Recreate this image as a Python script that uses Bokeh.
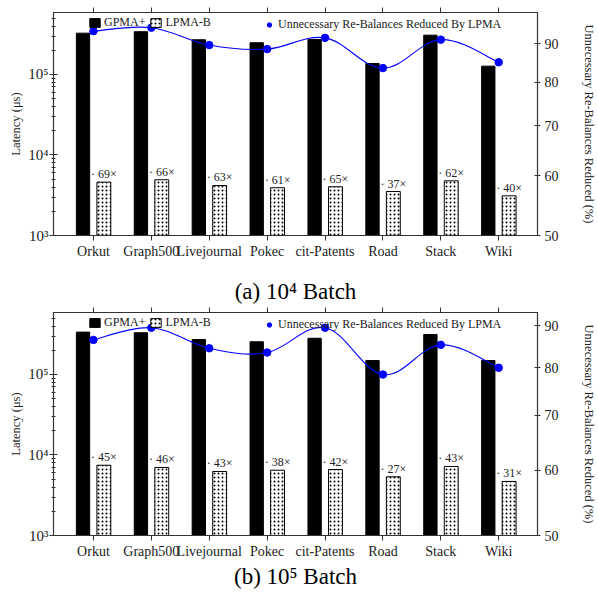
from bokeh.plotting import figure
from bokeh.models import (Range1d, LinearAxis, FixedTicker, Legend, LegendItem,
                          ColumnDataSource, Title)
from bokeh.layouts import column
from bokeh.embed import file_html
from bokeh.resources import INLINE
from bokeh.core.properties import value

# ---------------- data ----------------
categories = ["Orkut", "Graph500", "Livejournal", "Pokec", "cit-Patents", "Road", "Stack", "Wiki"]

# (a) 10^4 batch
gpma_a = [3.26e5, 3.4e5, 2.7e5, 2.48e5, 2.72e5, 1.37e5, 3.08e5, 1.27e5]
lpma_a = [4.6e3, 4.92e3, 4.18e3, 3.92e3, 4.03e3, 3.52e3, 4.78e3, 3.11e3]
speedup_a = [69, 66, 63, 61, 65, 37, 62, 40]
reduced_a = [93.5, 94.5, 89.6, 88.5, 91.6, 83.5, 91.1, 85.0]

# (b) 10^5 batch
gpma_b = [3.36e5, 3.3e5, 2.72e5, 2.55e5, 2.82e5, 1.49e5, 3.14e5, 1.49e5]
lpma_b = [7.46e3, 7.0e3, 6.24e3, 6.47e3, 6.6e3, 5.36e3, 7.2e3, 4.69e3]
speedup_b = [45, 46, 43, 38, 42, 27, 43, 31]
reduced_b = [86.5, 89.5, 84.5, 83.5, 89.5, 78.5, 85.3, 80.0]

captions = ["(a) 10⁴ Batch", "(b) 10⁵ Batch"]
left_ticks = [1e3, 1e4, 1e5]
left_tick_labels = ["10³", "10⁴", "10⁵"]
right_ticks = [50, 60, 70, 80, 90]

FONT = "Liberation Serif"
AX = "#333333"
TXT = "#222222"


def smooth_segments(xs, ys, k=0.18):
    n = len(xs)
    x0, y0, x1, y1, cx0, cy0, cx1, cy1 = [], [], [], [], [], [], [], []
    for i in range(n - 1):
        pm = max(i - 1, 0)
        pn = min(i + 2, n - 1)
        x0.append(xs[i]); y0.append(ys[i])
        x1.append(xs[i + 1]); y1.append(ys[i + 1])
        cx0.append(xs[i] + k * (xs[i + 1] - xs[pm]))
        cy0.append(ys[i] + k * (ys[i + 1] - ys[pm]))
        cx1.append(xs[i + 1] - k * (xs[pn] - xs[i]))
        cy1.append(ys[i + 1] - k * (ys[pn] - ys[i]))
    return dict(x0=x0, y0=y0, x1=x1, y1=y1, cx0=cx0, cy0=cy0, cx1=cx1, cy1=cy1)


def caption_title(text, standoff):
    return Title(text=text, align="center", text_font=FONT,
                 text_font_size="23px", text_font_style="normal",
                 text_color="black", standoff=standoff)


def make_panel(gpma, lpma, speedup, reduced, right_max, height, top, bottom):
    idx = list(range(len(categories)))
    p = figure(width=598, height=height, output_backend="svg", toolbar_location=None,
               x_range=Range1d(-0.69, 7.67), y_range=Range1d(1e3, 10 ** 5.77),
               y_axis_type="log", min_border_left=53, min_border_right=58,
               min_border_top=top, min_border_bottom=bottom)
    p.extra_y_ranges = {"pct": Range1d(50, right_max)}
    p.grid.visible = False
    p.outline_line_color = AX
    p.outline_line_width = 1.2
    p.background_fill_color = "white"
    p.border_fill_color = "white"

    src = ColumnDataSource(dict(
        xg=[i - 0.18 for i in idx], xl=[i + 0.18 for i in idx],
        gpma=gpma, lpma=lpma,
        lab=["· %d×" % s for s in speedup]))

    rg = p.vbar(x="xg", top="gpma", bottom=1, width=0.23, source=src,
                fill_color="black", line_color="black", line_width=1)
    rl = p.vbar(x="xl", top="lpma", bottom=1, width=0.24, source=src,
                fill_color="white", line_color="black", line_width=1,
                hatch_pattern="dot", hatch_color="black", hatch_scale=4,
                hatch_weight=0.9)
    p.text(x="xl", y="lpma", text="lab", source=src, text_align="center",
           text_baseline="bottom", y_offset=-1, text_font=value(FONT),
           text_font_size="12px", text_color=TXT)

    seg = smooth_segments([float(i) for i in idx], reduced)
    p.bezier(source=ColumnDataSource(seg), x0="x0", y0="y0", x1="x1", y1="y1",
             cx0="cx0", cy0="cy0", cx1="cx1", cy1="cy1",
             line_color="#0000ff", line_width=1.1, y_range_name="pct")
    rc = p.scatter(x=idx, y=reduced, size=7.5, fill_color="#0000ff",
                   line_color="#0000ff", y_range_name="pct")

    # axes
    xa = p.xaxis[0]
    xa.ticker = FixedTicker(ticks=idx)
    xa.major_label_overrides = {i: c for i, c in zip(idx, categories)}
    top_ax = LinearAxis(ticker=FixedTicker(ticks=idx), major_label_text_font_size="0px",
                        major_label_standoff=0)
    p.add_layout(top_ax, "above")
    for a in (xa, top_ax):
        a.major_tick_in = 0
        a.major_tick_out = 5
        a.minor_tick_line_color = None
        a.axis_line_color = AX
        a.major_tick_line_color = AX
    xa.major_label_text_font = FONT
    xa.major_label_text_font_size = "14px"
    xa.major_label_text_color = TXT
    xa.major_label_standoff = 3

    ya = p.yaxis[0]
    ya.ticker.num_minor_ticks = 10
    ya.major_label_overrides = {t: l for t, l in zip(left_ticks, left_tick_labels)}
    ya.major_label_text_font = FONT
    ya.major_label_text_font_size = "15px"
    ya.major_label_text_color = TXT
    ya.major_tick_in = 4
    ya.major_tick_out = 4
    ya.minor_tick_in = 2
    ya.minor_tick_out = 2
    ya.axis_line_color = AX
    ya.major_tick_line_color = AX
    ya.minor_tick_line_color = AX
    ya.major_label_standoff = 1
    ya.axis_label = "Latency (μs)"
    ya.axis_label_text_font = FONT
    ya.axis_label_text_font_size = "12.5px"
    ya.axis_label_text_font_style = "normal"
    ya.axis_label_text_color = TXT
    ya.axis_label_standoff = 2

    ra = LinearAxis(y_range_name="pct", ticker=FixedTicker(ticks=right_ticks),
                    axis_label="Unnecessary Re-Balances Reduced (%)")
    ra.major_label_text_font = FONT
    ra.major_label_text_font_size = "14px"
    ra.major_label_text_color = TXT
    ra.major_tick_in = 3
    ra.major_tick_out = 3
    ra.minor_tick_line_color = None
    ra.axis_line_color = AX
    ra.major_tick_line_color = AX
    ra.major_label_standoff = 4
    ra.axis_label_text_font = FONT
    ra.axis_label_text_font_size = "12.5px"
    ra.axis_label_text_font_style = "normal"
    ra.axis_label_text_color = TXT
    ra.axis_label_standoff = 20
    p.add_layout(ra, "right")

    # legends
    lg1 = Legend(items=[LegendItem(label="GPMA+", renderers=[rg]),
                        LegendItem(label="LPMA-B", renderers=[rl])],
                 orientation="horizontal", location=(35, 205),
                 glyph_width=13, glyph_height=11, label_standoff=3, spacing=4,
                 padding=0, margin=0, background_fill_alpha=0, border_line_alpha=0,
                 label_text_font=FONT, label_text_font_size="12px",
                 label_text_color=TXT)
    lg2 = Legend(items=[LegendItem(label="Unnecessary Re-Balances Reduced By LPMA",
                                   renderers=[rc])],
                 orientation="horizontal", location=(209, 203),
                 glyph_width=14, glyph_height=11, label_standoff=2, spacing=4,
                 padding=0, margin=0, background_fill_alpha=0, border_line_alpha=0,
                 label_text_font=FONT, label_text_font_size="12px",
                 label_text_color=TXT)
    p.add_layout(lg1)
    p.add_layout(lg2)
    return p


p1 = make_panel(gpma_a, lpma_a, speedup_a, reduced_a, 99.0, 271, 12, 36)
p2 = make_panel(gpma_b, lpma_b, speedup_b, reduced_b, 93.4, 329, 41, 65)
p2.add_layout(caption_title(captions[0], 7), "above")
p2.add_layout(caption_title(captions[1], 1), "below")

layout = column(p1, p2, spacing=0)
open("out.html", "w").write(file_html(layout, INLINE))
